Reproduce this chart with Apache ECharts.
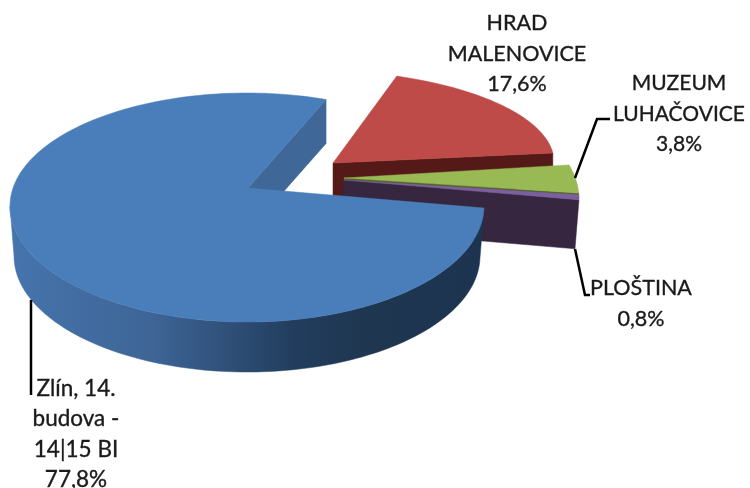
<!DOCTYPE html>
<html><head><meta charset="utf-8">
<style>html,body{margin:0;padding:0;background:#fff}#c{width:750px;height:488px}</style>
<script src="https://cdn.jsdelivr.net/npm/echarts@6/dist/echarts.min.js"></script>
</head><body><div id="c"></div>
<script>
const categories = ['Zlín, 14.\nbudova -\n14|15 BI', 'HRAD\nMALENOVICE', 'MUZEUM\nLUHAČOVICE', 'PLOŠTINA'];
const values = [77.8, 17.6, 3.8, 0.8];
const percentLabels = ['77,8%', '17,6%', '3,8%', '0,8%'];

const total = values.reduce((a, b) => a + b, 0);
// layout of each exploded slice (fitted perspective ellipse), no data in here
const layouts = [
  {cx:247,cy:206,rx:237,ryB:113,ryF:116,start:1,stretch:1.03,ax:248,ay:188,depth:50,wallDepth:44,z:5,
   face:'#4a7ebb',wall:'#3f6797',
   rimWall:{type:'linear',x:0,y:0,x2:1,y2:0,colorStops:[{offset:0,color:'#4674ad'},{offset:.3,color:'#3e6596'},{offset:.6,color:'#223d5e'},{offset:.75,color:'#1e3650'},{offset:1,color:'#1c3450'}]},
   text:[76,388],size:22.5,leader:[[31,300],[31,395]]},
  {cx:309,cy:162,rx:245,ryB:92,ryF:92,start:-69,stretch:1,ax:333,ay:163,depth:34,z:1,
   face:'#be4b48',wall:'#551a18',text:[517,23],size:21.5},
  {cx:339,cy:199,rx:240,ryB:120,ryF:120,start:-16.5,stretch:1,ax:344,ay:178,depth:6,z:2,
   face:'#98b954',wall:'#4e6023',text:[679,83],size:21,leader:[[575,178],[597,119],[610,119]]},
  {cx:339,cy:200,rx:240,ryB:100,ryF:100,start:-3,stretch:1,ax:344,ay:180,depth:49,taper:-4,z:3,
   face:'#7d5fa0',wall:'#37263f',text:[641,288],size:21.5,leader:[[575,249],[585,295],[590,295]]}
];
const rim = (L, deg, dy, shrink) => {
  const t = deg * Math.PI / 180, s = Math.sin(t);
  return [L.cx + (L.rx - (shrink || 0)) * Math.cos(t), L.cy + (s > 0 ? L.ryF : L.ryB) * s + (dy || 0)];
};
const arc = (L, from, to, dy, shrink) => {
  const n = Math.max(2, Math.ceil(Math.abs(to - from) / 1.5)), pts = [];
  for (let i = 0; i <= n; i++) pts.push(rim(L, from + (to - from) * i / n, dy, shrink));
  return pts;
};
const poly = (points, fill) => ({type:'polygon', shape:{points}, style:{fill, stroke:fill, lineWidth:.5}});

function renderSlice(i) {
  return function (params, api) {
    const L = layouts[i];
    const sweep = api.value(0) / total * 360 * L.stretch;
    const a0 = L.start, a1 = L.start + sweep;
    const kids = [];
    const tp = L.taper || 0;
    const d = L.wallDepth || L.depth;
    const e = rim(L, a1);
    kids.push(poly([[L.ax, L.ay], e, [e[0] + tp, e[1] + d], [L.ax + tp, L.ay + d]], L.wall));
    if (L.rimWall) kids.push(poly(arc(L, a0, 180).concat(arc(L, 180, a0, L.depth, 4)), L.rimWall));
    kids.push(poly([[L.ax, L.ay]].concat(arc(L, a0, a1)), L.face));
    if (L.leader) kids.push({type:'polyline', shape:{points:L.leader}, style:{stroke:'#000', lineWidth:2.5, fill:null}});
    kids.push({type:'text', x:L.text[0], y:L.text[1] - 15, style:{
      text: categories[i] + '\n' + percentLabels[i], x:0, y:0, align:'center', verticalAlign:'top',
      font:L.size + 'px Lato', lineHeight:30.5, fill:'#1a1a1a', stroke:'#1a1a1a', lineWidth:.35}});
    return {type:'group', children:kids};
  };
}
const chart = echarts.init(document.getElementById('c'), null, {renderer:'canvas'});
chart.setOption({
  animation:false,
  backgroundColor:'#fff',
  series: values.map((v, i) => ({
    type:'custom', name:categories[i], coordinateSystem:'none', z:layouts[i].z, silent:true,
    data:[[v]], renderItem:renderSlice(i)
  }))
});
</script></body></html>
